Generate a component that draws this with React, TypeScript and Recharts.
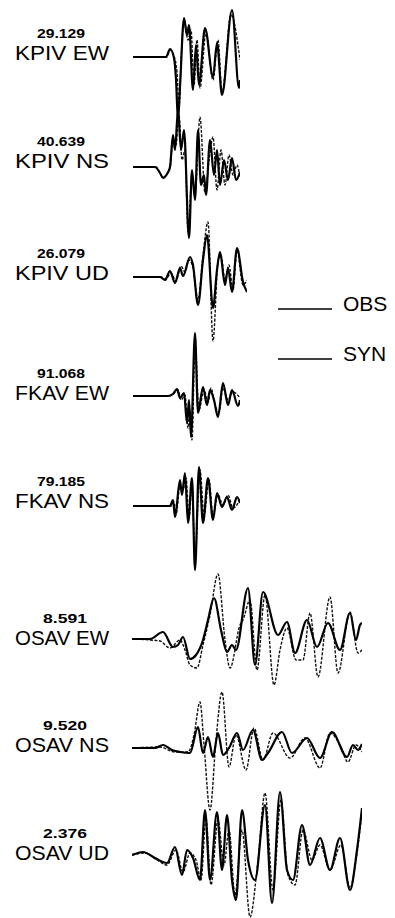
import React from 'react';
import { LineChart, Line, XAxis, YAxis } from 'recharts';

// [time, amplitude] pairs; amplitude is up-positive
type Pt = [number, number];

const kpivEwObs: Pt[] = [[0,0],[33,0],[37,8],[41,-1],[43,-22],[45,-64],[47,-30],[51,39],[54,22],[56,32],[60,-33],[63,12],[66,-28],[72,29],[80,-20],[84,14],[89,-38],[99,47],[106,-31],[107,-23]];
const kpivEwSyn: Pt[] = [[0,0],[34,0],[37,7],[41,1],[44,-15],[46,-50],[48,-5],[51,37],[55,17],[58,27],[61,-28],[64,17],[67,-31],[73,25],[80,-23],[85,17],[89,-35],[98,42],[107,-3]];

const kpivNsObs: Pt[] = [[0,0],[22,0],[27,-6],[30,-11],[34,-7],[37,0],[40,32],[42,17],[45,57],[48,17],[51,37],[56,-71],[59,-3],[62,-33],[65,37],[68,-18],[71,-8],[73,-28],[77,27],[81,-8],[84,17],[87,-18],[91,7],[95,-13],[99,9],[103,-13],[107,-5]];
const kpivNsSyn: Pt[] = [[0,0],[23,0],[30,-10],[37,-1],[40,27],[43,22],[46,52],[49,7],[52,17],[55,-65],[59,-8],[62,-28],[67,50],[72,-26],[76,7],[80,30],[84,-23],[88,17],[92,-18],[96,12],[100,-8],[104,2],[107,-11]];

const kpivUdObs: Pt[] = [[0,0],[27,0],[32,-3],[37,6],[42,-6],[47,9],[50,1],[57,20],[60,12],[65,-28],[70,17],[74,42],[80,-31],[84,7],[87,25],[92,-8],[95,9],[99,-15],[104,29],[110,-5],[114,-15]];
const kpivUdSyn: Pt[] = [[0,0],[28,0],[33,-2],[38,4],[43,-4],[48,11],[52,5],[56,17],[60,9],[65,-23],[70,22],[75,55],[80,-64],[85,15],[88,22],[92,-3],[96,12],[100,-13],[104,27],[110,-8],[114,-3]];

const fkavEwObs: Pt[] = [[0,0],[35,0],[40,2],[44,7],[47,-2],[51,3],[54,-27],[56,-4],[58,-41],[62,63],[65,-17],[70,9],[74,-9],[77,6],[81,-4],[85,-21],[90,13],[95,-9],[99,6],[105,-10],[107,-4]];
const fkavEwSyn: Pt[] = [[0,0],[36,0],[41,3],[45,6],[48,-4],[52,1],[55,-32],[57,-14],[59,-44],[62,51],[66,-14],[71,6],[75,-6],[78,8],[82,-9],[86,-16],[90,8],[95,-4],[100,4],[107,-2]];

const fkavNsObs: Pt[] = [[0,0],[37,0],[40,6],[42,-11],[47,26],[49,11],[52,33],[55,-17],[59,28],[62,-64],[66,39],[70,-17],[75,28],[80,-14],[84,13],[89,-1],[94,9],[99,-4],[104,9],[107,3]];
const fkavNsSyn: Pt[] = [[0,0],[38,0],[41,4],[43,-9],[47,21],[50,16],[53,28],[56,-12],[59,21],[62,-54],[67,36],[71,-9],[76,26],[80,-9],[85,11],[90,1],[95,11],[100,-2],[107,6]];

const osavEwObs: Pt[] = [[0,0],[18,0],[31,7],[41,-8],[46,-6],[51,2],[58,-20],[64,-16],[71,-1],[76,19],[82,41],[89,9],[95,-13],[100,-6],[104,-11],[116,51],[123,-26],[131,47],[146,4],[155,17],[163,-14],[175,19],[185,-8],[196,16],[208,-11],[218,26],[224,-1],[228,14],[230,16]];
const osavEwSyn: Pt[] = [[0,0],[18,-1],[28,-2],[38,-9],[48,-1],[53,-11],[58,-26],[65,-29],[71,-6],[78,24],[86,65],[93,-1],[98,-29],[108,14],[111,19],[118,39],[125,-31],[133,44],[142,-46],[148,-11],[155,11],[164,-21],[171,-21],[178,26],[186,-38],[198,42],[206,-34],[218,27],[226,-14],[230,-11]];

const osavNsObs: Pt[] = [[0,0],[23,0],[31,3],[40,-2],[48,-4],[58,-5],[66,21],[71,-5],[76,11],[81,-9],[86,15],[91,-7],[97,0],[105,15],[111,-2],[121,18],[130,-12],[136,-5],[150,16],[160,-5],[175,10],[188,-10],[200,16],[215,-9],[221,3],[226,-2],[230,4]];
const osavNsSyn: Pt[] = [[0,0],[28,1],[43,-4],[56,-4],[62,13],[68,46],[72,3],[78,-62],[84,8],[90,56],[97,-19],[104,13],[114,-22],[122,20],[131,-12],[141,15],[158,-10],[173,10],[188,-20],[198,15],[208,3],[216,-14],[224,3],[230,-4]];

const osavUdObs: Pt[] = [[0,0],[11,3],[23,-3],[35,-8],[43,8],[50,-20],[55,5],[61,-3],[68,-25],[73,45],[78,-25],[85,43],[90,-15],[95,40],[100,-25],[104,-45],[110,45],[116,-5],[123,-25],[133,50],[140,-48],[148,63],[155,-15],[161,-25],[170,30],[178,-10],[188,17],[198,-15],[208,17],[218,-35],[225,5],[230,47]];
const osavUdSyn: Pt[] = [[0,0],[13,2],[25,-5],[35,-10],[44,5],[51,-17],[58,2],[64,-5],[69,-25],[74,37],[79,-30],[86,35],[92,-10],[97,25],[103,-40],[110,25],[118,-62],[126,-5],[133,62],[141,-35],[149,55],[156,-20],[163,-30],[171,25],[180,-5],[188,10],[198,-15],[209,10],[218,-33],[224,-5],[230,43]];

const stations = ['KPIV EW', 'KPIV NS', 'KPIV UD', 'FKAV EW', 'FKAV NS', 'OSAV EW', 'OSAV NS', 'OSAV UD'];
const maxAmps = ['29.129', '40.639', '26.079', '91.068', '79.185', '8.591', '9.520', '2.376'];
const obsSeries = [kpivEwObs, kpivNsObs, kpivUdObs, fkavEwObs, fkavNsObs, osavEwObs, osavNsObs, osavUdObs];
const synSeries = [kpivEwSyn, kpivNsSyn, kpivUdSyn, fkavEwSyn, fkavNsSyn, osavEwSyn, osavNsSyn, osavUdSyn];

// page placement of each trace
const layout = [
  { x0: 133, len: 107, base: 57, labelY: 60 },
  { x0: 133, len: 107, base: 167, labelY: 168 },
  { x0: 133, len: 114, base: 277, labelY: 280 },
  { x0: 133, len: 107, base: 396, labelY: 400 },
  { x0: 133, len: 107, base: 506, labelY: 508 },
  { x0: 132, len: 230, base: 639, labelY: 645 },
  { x0: 132, len: 230, base: 748, labelY: 752 },
  { x0: 132, len: 230, base: 855, labelY: 860 },
];

const AMP = 130;
const FONT = '"Liberation Sans", Arial, sans-serif';

const toRows = (pts: Pt[]) => pts.map(([t, v]) => ({ t, v }));

const Trace = ({ i }: { i: number }) => {
  const { x0, len, base } = layout[i];
  return (
    <div style={{ position: 'absolute', left: x0, top: base - AMP, pointerEvents: 'none' }}>
      <LineChart width={len} height={AMP * 2} margin={{ top: 0, right: 0, bottom: 0, left: 0 }} style={{ overflow: 'visible' }}>
        <XAxis type="number" dataKey="t" domain={[0, len]} hide />
        <YAxis type="number" domain={[-AMP, AMP]} hide />
        <Line data={toRows(synSeries[i])} dataKey="v" type="monotone" stroke="#111" strokeWidth={1.4}
          strokeDasharray="3 1.5" dot={false} isAnimationActive={false} />
        <Line data={toRows(obsSeries[i])} dataKey="v" type="monotone" stroke="#000" strokeWidth={2.2}
          dot={false} isAnimationActive={false} />
      </LineChart>
    </div>
  );
};

export default function App() {
  return (
    <div style={{ position: 'absolute', left: 0, top: 0, width: 395, height: 918, background: '#fff', overflow: 'hidden' }}>
      <svg width={395} height={918} style={{ position: 'absolute', left: 0, top: 0 }}>
        {stations.map((s, i) => (
          <g key={s} fontFamily={FONT} fill="#000">
            <text x={maxAmps[i].length > 5 ? 61 : 65} y={layout[i].labelY - 22} fontSize={12} fontWeight="bold"
              textAnchor="middle" textLength={maxAmps[i].length > 5 ? 48 : 44} lengthAdjust="spacingAndGlyphs">
              {maxAmps[i]}
            </text>
            <text x={15} y={layout[i].labelY} fontSize={21} textLength={94} lengthAdjust="spacingAndGlyphs">
              {s}
            </text>
          </g>
        ))}
        <line x1={278} x2={332} y1={309} y2={309} stroke="#000" strokeWidth={1.5} />
        <text x={343} y={311} fontSize={21} fontFamily={FONT}>OBS</text>
        <line x1={278} x2={332} y1={359} y2={359} stroke="#000" strokeWidth={1.5} />
        <text x={343} y={361} fontSize={21} fontFamily={FONT}>SYN</text>
      </svg>
      {layout.map((_, i) => <Trace key={i} i={i} />)}
    </div>
  );
}
